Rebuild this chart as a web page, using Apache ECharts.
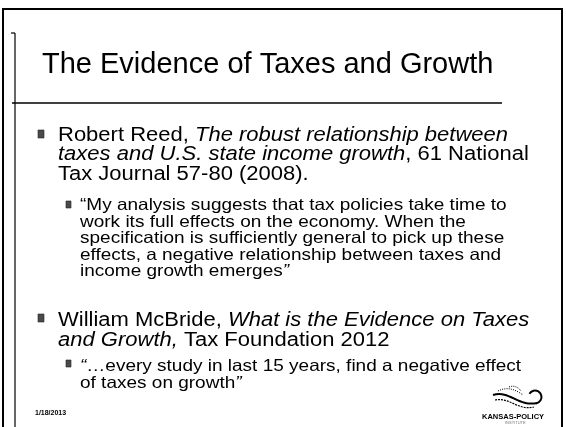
<!DOCTYPE html>
<html>
<head>
<meta charset="utf-8">
<script src="https://cdn.jsdelivr.net/npm/echarts@6/dist/echarts.min.js"></script>
<style>
html,body{margin:0;padding:0;background:#fff;}
#slide{width:566px;height:427px;}
</style>
</head>
<body>
<div id="slide"></div>
<script>
// slide text
var slideTitle = 'The Evidence of Taxes and Growth';
var reedLines = [
    'Robert Reed, {i|The robust relationship between}',
    '{i|taxes and U.S. state income growth}, 61 National',
    'Tax Journal 57-80 (2008).'
];
var reedQuote = [
    '\u201cMy analysis suggests that tax policies take time to',
    'work its full effects on the economy. When the',
    'specification is sufficiently general to pick up these',
    'effects, a negative relationship between taxes and',
    'income growth emerges{i|\u201d}'
];
var mcbrideLines = [
    'William McBride, {i|What is the Evidence on Taxes}',
    '{i|and Growth,} Tax Foundation 2012'
];
var mcbrideQuote = [
    '{i|\u201c}\u2026every study in last 15 years, find a negative effect',
    'of taxes on growth{i|\u201d}'
];
var footerDate = '1/18/2013';
var logoName = 'KANSAS-POLICY';
var logoSub = 'INSTITUTE';

var FONT = 'Arial, "Liberation Sans", sans-serif';

// text in the scan is wider than Arial, so stretch it a bit
function block(lines, x, top, size, lh, sx){
    return {
        type: 'text',
        x: x, y: top,
        scaleX: sx,
        style: {
            text: lines.join('\n'),
            font: size + 'px ' + FONT,
            fill: '#000',
            lineHeight: lh,
            align: 'left',
            verticalAlign: 'top',
            rich: {
                i: { fontStyle: 'italic', fontSize: size, fontFamily: FONT, lineHeight: lh, fill: '#000' }
            }
        }
    };
}

function bullet(x, y, w, h){
    return {
        type: 'rect',
        shape: { x: x, y: y, width: w, height: h },
        style: { fill: '#4a4a4a', stroke: '#222', lineWidth: 0.6 }
    };
}

var myChart = echarts.init(document.getElementById('slide'));
var option = {
    backgroundColor: '#fff',
    animation: false,
    graphic: [
        // frame
        { type: 'rect', shape: { x: 3, y: 9, width: 559, height: 430 }, style: { fill: 'none', stroke: '#000', lineWidth: 2 } },
        { type: 'line', shape: { x1: 15, y1: 33, x2: 15, y2: 427 }, style: { stroke: '#000', lineWidth: 1.2 } },
        { type: 'line', shape: { x1: 11, y1: 33, x2: 15, y2: 33 }, style: { stroke: '#000', lineWidth: 1.2 } },
        { type: 'line', shape: { x1: 12, y1: 103, x2: 502, y2: 103 }, style: { stroke: '#000', lineWidth: 1.4 } },
        // title
        {
            type: 'text', left: 42, top: 50.5,
            style: { text: slideTitle, font: '29px ' + FONT, fill: '#000' }
        },
        // bullets
        bullet(38, 130, 6, 8),
        bullet(66, 201, 5, 7),
        bullet(38, 314, 6, 8),
        bullet(66, 360, 5, 7),
        block(reedLines, 58, 125.5, 19.5, 19.5, 22 / 19.5),
        block(reedQuote, 80, 197.3, 16.5, 16.5, 19 / 16.5),
        block(mcbrideLines, 58, 311, 19.5, 19.5, 22 / 19.5),
        block(mcbrideQuote, 80, 357.5, 16.5, 17, 19 / 16.5),
        // footer
        {
            type: 'text', left: 35, top: 410,
            style: { text: footerDate, font: 'bold 7px ' + FONT, fill: '#000' }
        },
        // logo
        { type: 'bezierCurve', shape: { x1: 493, y1: 395, cpx1: 510, cpy1: 390, cpx2: 518, cpy2: 407, x2: 537, y2: 403 }, style: { stroke: '#000', lineWidth: 2, fill: 'none' } },
        { type: 'bezierCurve', shape: { x1: 495, y1: 400, cpx1: 510, cpy1: 397, cpx2: 518, cpy2: 411, x2: 534, y2: 407 }, style: { stroke: '#000', lineWidth: 1.2, fill: 'none', lineDash: [2, 1] } },
        { type: 'bezierCurve', shape: { x1: 498, y1: 391, cpx1: 508, cpy1: 386, cpx2: 516, cpy2: 390, x2: 523, y2: 395 }, style: { stroke: '#000', lineWidth: 1, fill: 'none', lineDash: [1, 1.2] } },
        { type: 'bezierCurve', shape: { x1: 509, y1: 387, cpx1: 514, cpy1: 385, cpx2: 518, cpy2: 387, x2: 521, y2: 391 }, style: { stroke: '#000', lineWidth: 1, fill: 'none', lineDash: [1, 1.2] } },
        { type: 'arc', shape: { cx: 535, cy: 397, r: 6.5, startAngle: -2.6, endAngle: 1.4 }, style: { stroke: '#000', lineWidth: 2, fill: 'none' } },
        {
            type: 'text', left: 482, top: 413,
            style: { text: logoName, font: 'bold 7.5px ' + FONT, fill: '#000' }
        },
        {
            type: 'text', left: 505, top: 421,
            style: { text: logoSub, font: '4px ' + FONT, fill: '#777' }
        }
    ]
};
myChart.setOption(option);
</script>
</body>
</html>
